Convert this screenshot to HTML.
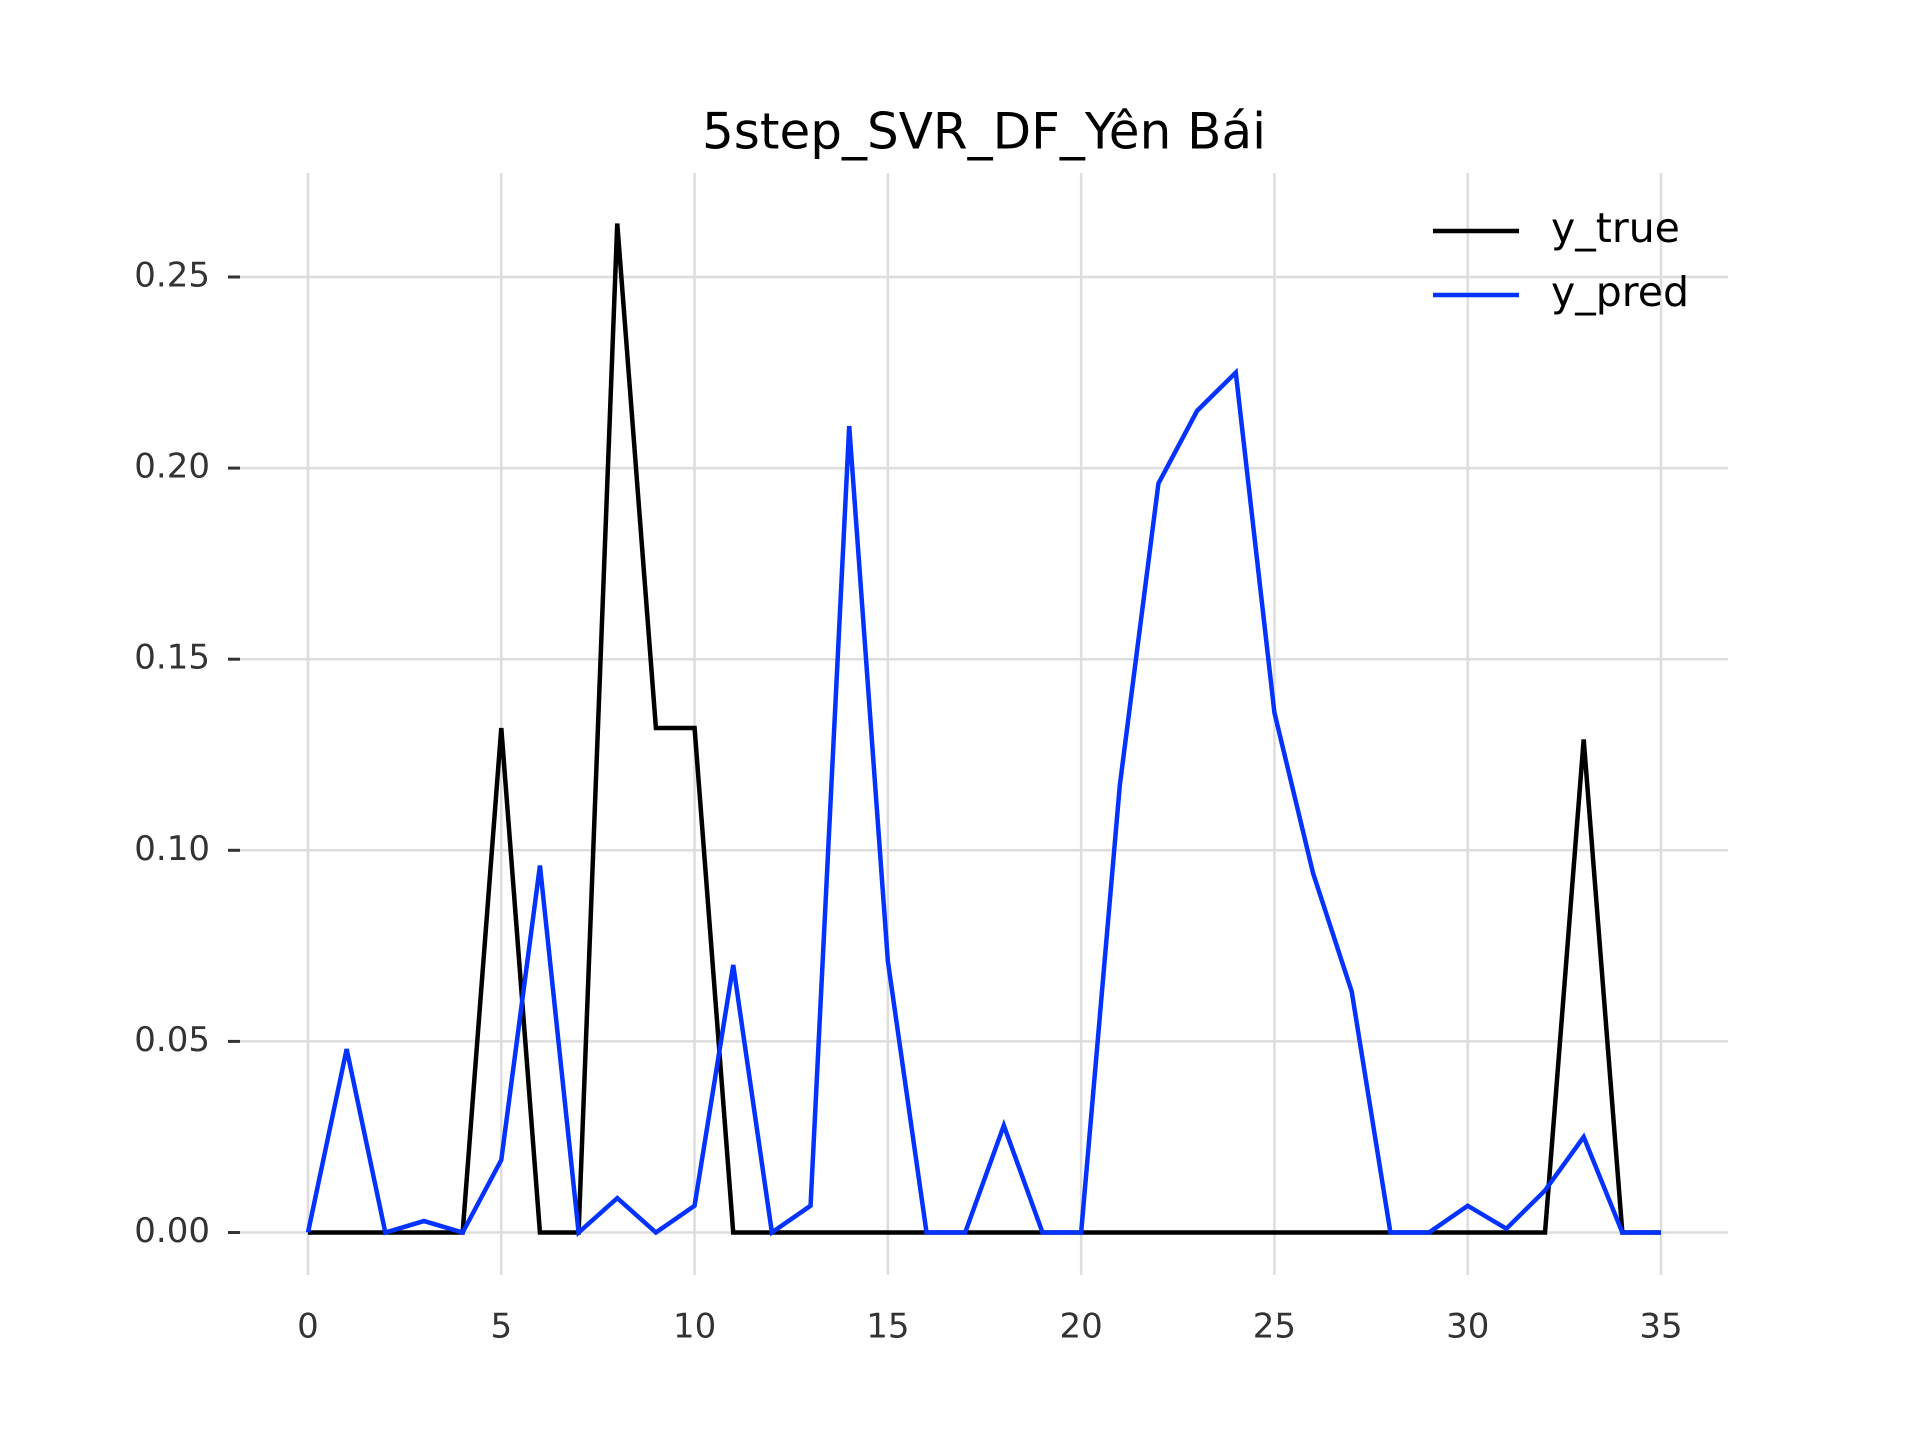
<!DOCTYPE html>
<html><head><meta charset="utf-8"><style>
html,body{margin:0;padding:0;background:#fff;}
svg{display:block;font-family:"DejaVu Sans","Liberation Sans",sans-serif;}
</style></head><body>
<svg id="chart" width="1920" height="1440" viewBox="0 0 1920 1440" xmlns="http://www.w3.org/2000/svg">
<text x="984" y="135" font-size="50" text-anchor="middle" dominant-baseline="middle" fill="#000">5step_SVR_DF_Yên Bái</text>
<g id="grid"></g><g id="ticks"></g><g id="series"></g>
<g>
<line x1="1433" y1="231" x2="1519" y2="231" stroke="#000" stroke-width="4.5"/>
<text x="1551" y="231" font-size="41" dominant-baseline="middle" fill="#000">y_true</text>
<line x1="1433" y1="295" x2="1519" y2="295" stroke="#0433ff" stroke-width="4.5"/>
<text x="1551" y="295" font-size="41" dominant-baseline="middle" fill="#000">y_pred</text>
</g>
</svg>
<script>
const xTicks=[0,5,10,15,20,25,30,35];
const yTicks=[0,0.05,0.10,0.15,0.20,0.25];
const yTickLabels=["0.00","0.05","0.10","0.15","0.20","0.25"];
const yTrue=[0,0,0,0,0,0.132,0,0,0.264,0.132,0.132,0,0,0,0,0,0,0,0,0,0,0,0,0,0,0,0,0,0,0,0,0,0,0.129,0,0];
const yPred=[0,0.048,0,0.003,0,0.019,0.096,0,0.009,0,0.007,0.070,0,0.007,0.211,0.071,0,0,0.028,0,0,0.117,0.196,0.215,0.225,0.136,0.094,0.063,0,0,0.007,0.001,0.011,0.025,0,0];
const NS="http://www.w3.org/2000/svg";
function sx(v){return 308+v*(1661-308)/35;}
function sy(v){return 1232.5-v*(1232.5-277)/0.25;}
function mk(t,a,p){const e=document.createElementNS(NS,t);for(const k in a)e.setAttribute(k,a[k]);p.appendChild(e);return e;}
const grid=document.getElementById('grid'),ticks=document.getElementById('ticks'),ser=document.getElementById('series');
xTicks.forEach(v=>{
 const l=mk('line',{x1:sx(v),x2:sx(v),y1:173,y2:1275,stroke:'#dddddd','stroke-width':2.5},grid);
 
 
 const t=mk('text',{x:sx(v),y:1328,'font-size':34,'text-anchor':'middle','dominant-baseline':'middle',fill:'#333'},ticks);
 t.textContent=String(v);
 
 
});
yTicks.forEach((v,i)=>{
 const l=mk('line',{x1:240,x2:1728,y1:sy(v),y2:sy(v),stroke:'#dddddd','stroke-width':2.5},grid);
 
 
 const tk=mk('line',{x1:228,x2:240,y1:sy(v),y2:sy(v),stroke:'#333','stroke-width':3},ticks);
 
 
 const t=mk('text',{x:210,y:sy(v),'font-size':34,'text-anchor':'end','dominant-baseline':'middle',fill:'#333'},ticks);
 t.textContent=yTickLabels[i];
 
 
});
function line(data,color,name){
 const p=mk('polyline',{points:data.map((v,i)=>sx(i)+','+sy(v)).join(' '),fill:'none',stroke:color,'stroke-width':4.5,'stroke-linejoin':'miter'},ser);
 
 
}
line(yTrue,'#000','series-y-true');
line(yPred,'#0433ff','series-y-pred');
</script>
</body></html>
